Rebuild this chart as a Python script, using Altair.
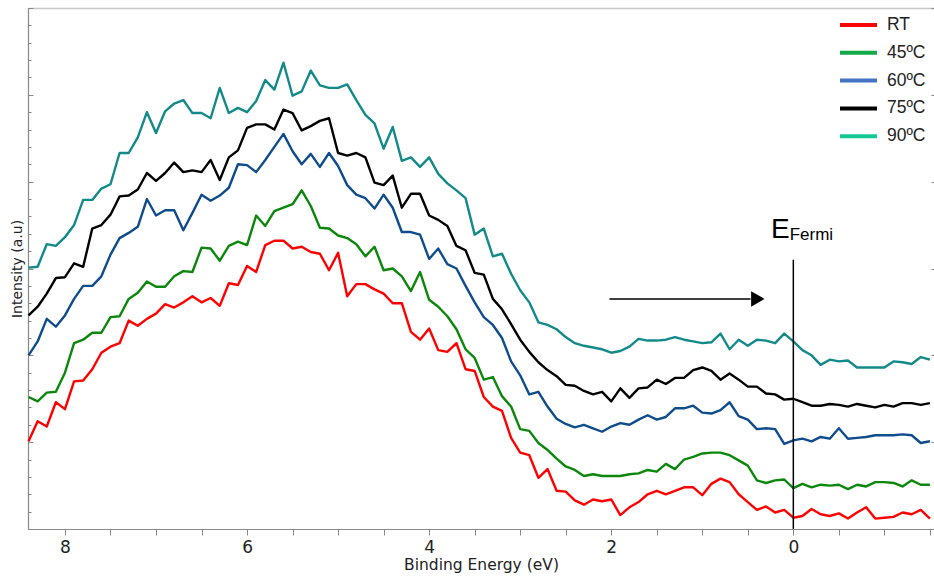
import altair as alt
import pandas as pd

# Binding energy grid (eV), 0.1 eV steps from 8.4 down to -1.5
energy = [
    8.4, 8.3, 8.2, 8.1, 8.0, 7.9, 7.8, 7.7, 7.6, 7.5,
    7.4, 7.3, 7.2, 7.1, 7.0, 6.9, 6.8, 6.7, 6.6, 6.5,
    6.4, 6.3, 6.2, 6.1, 6.0, 5.9, 5.8, 5.7, 5.6, 5.5,
    5.4, 5.3, 5.2, 5.1, 5.0, 4.9, 4.8, 4.7, 4.6, 4.5,
    4.4, 4.3, 4.2, 4.1, 4.0, 3.9, 3.8, 3.7, 3.6, 3.5,
    3.4, 3.3, 3.2, 3.1, 3.0, 2.9, 2.8, 2.7, 2.6, 2.5,
    2.4, 2.3, 2.2, 2.1, 2.0, 1.9, 1.8, 1.7, 1.6, 1.5,
    1.4, 1.3, 1.2, 1.1, 1.0, 0.9, 0.8, 0.7, 0.6, 0.5,
    0.4, 0.3, 0.2, 0.1, 0.0, -0.1, -0.2, -0.3, -0.4, -0.5,
    -0.6, -0.7, -0.8, -0.9, -1.0, -1.1, -1.2, -1.3, -1.4, -1.5,
]

# Valence-band spectra (offset, arbitrary units)
rt = [
    1.01, 1.24, 1.18, 1.46, 1.38, 1.70, 1.71, 1.84, 2.03, 2.10,
    2.14, 2.40, 2.34, 2.42, 2.48, 2.59, 2.55, 2.61, 2.68, 2.61,
    2.66, 2.57, 2.83, 2.81, 3.03, 2.96, 3.27, 3.32, 3.32, 3.23,
    3.25, 3.19, 3.17, 2.98, 3.18, 2.68, 2.82, 2.82, 2.76, 2.71,
    2.60, 2.60, 2.27, 2.18, 2.31, 2.06, 2.04, 2.14, 1.84, 1.82,
    1.52, 1.41, 1.36, 1.05, 0.88, 0.85, 0.59, 0.69, 0.44, 0.43,
    0.33, 0.28, 0.34, 0.32, 0.34, 0.16, 0.25, 0.31, 0.40, 0.44,
    0.40, 0.44, 0.48, 0.48, 0.39, 0.52, 0.58, 0.54, 0.40, 0.31,
    0.22, 0.26, 0.19, 0.22, 0.13, 0.15, 0.23, 0.17, 0.15, 0.18,
    0.12, 0.19, 0.25, 0.12, 0.13, 0.14, 0.19, 0.17, 0.22, 0.12,
]
c45 = [
    1.52, 1.47, 1.57, 1.58, 1.80, 2.14, 2.18, 2.26, 2.26, 2.44,
    2.45, 2.65, 2.72, 2.85, 2.79, 2.79, 2.91, 2.97, 2.96, 3.24,
    3.23, 3.09, 3.26, 3.31, 3.27, 3.61, 3.49, 3.66, 3.70, 3.74,
    3.90, 3.72, 3.47, 3.46, 3.38, 3.35, 3.28, 3.14, 3.25, 2.98,
    3.00, 2.91, 2.74, 2.96, 2.64, 2.56, 2.45, 2.30, 2.07, 1.97,
    1.72, 1.75, 1.53, 1.41, 1.15, 1.13, 0.99, 0.91, 0.81, 0.72,
    0.68, 0.61, 0.63, 0.61, 0.61, 0.61, 0.63, 0.64, 0.68, 0.66,
    0.75, 0.69, 0.80, 0.83, 0.87, 0.88, 0.88, 0.85, 0.79, 0.73,
    0.56, 0.53, 0.56, 0.57, 0.47, 0.52, 0.48, 0.51, 0.50, 0.51,
    0.46, 0.51, 0.49, 0.54, 0.54, 0.53, 0.49, 0.56, 0.51, 0.51,
]
c60 = [
    2.00, 2.16, 2.42, 2.33, 2.46, 2.65, 2.80, 2.80, 2.91, 3.16,
    3.35, 3.41, 3.48, 3.80, 3.61, 3.67, 3.67, 3.44, 3.64, 3.85,
    3.78, 3.84, 3.93, 4.20, 4.19, 4.11, 4.25, 4.40, 4.55, 4.35,
    4.20, 4.32, 4.17, 4.33, 4.18, 3.96, 3.85, 3.81, 3.69, 3.85,
    3.70, 3.42, 3.42, 3.39, 3.11, 3.23, 3.05, 3.00, 2.80, 2.61,
    2.44, 2.35, 2.20, 1.93, 1.77, 1.55, 1.58, 1.41, 1.27, 1.21,
    1.17, 1.20, 1.16, 1.12, 1.18, 1.22, 1.20, 1.26, 1.31, 1.26,
    1.29, 1.39, 1.39, 1.42, 1.34, 1.33, 1.37, 1.46, 1.30, 1.26,
    1.15, 1.16, 1.15, 0.98, 1.02, 1.04, 1.01, 1.06, 1.04, 1.16,
    1.04, 1.05, 1.06, 1.08, 1.08, 1.08, 1.09, 1.08, 0.99, 1.01,
]
c75 = [
    2.46, 2.56, 2.71, 2.89, 2.90, 3.06, 3.02, 3.46, 3.50, 3.62,
    3.83, 3.84, 3.91, 4.10, 4.01, 4.10, 4.22, 4.11, 4.13, 4.11,
    4.25, 4.02, 4.28, 4.36, 4.62, 4.66, 4.66, 4.60, 4.83, 4.79,
    4.59, 4.64, 4.70, 4.73, 4.33, 4.30, 4.33, 4.28, 3.99, 3.96,
    4.07, 3.70, 3.86, 3.86, 3.61, 3.56, 3.49, 3.26, 3.21, 2.95,
    2.93, 2.65, 2.53, 2.36, 2.18, 2.04, 1.92, 1.83, 1.76, 1.66,
    1.65, 1.59, 1.55, 1.58, 1.47, 1.62, 1.51, 1.62, 1.63, 1.72,
    1.67, 1.74, 1.74, 1.83, 1.86, 1.82, 1.72, 1.79, 1.72, 1.64,
    1.64, 1.56, 1.55, 1.49, 1.50, 1.46, 1.42, 1.42, 1.44, 1.43,
    1.41, 1.44, 1.42, 1.40, 1.43, 1.41, 1.45, 1.45, 1.43, 1.45,
]
c90 = [
    3.01, 3.02, 3.28, 3.26, 3.36, 3.50, 3.79, 3.79, 3.92, 3.97,
    4.33, 4.33, 4.51, 4.80, 4.56, 4.81, 4.90, 4.94, 4.79, 4.79,
    4.73, 5.08, 4.79, 4.85, 4.80, 4.93, 5.17, 5.06, 5.37, 4.99,
    5.04, 5.28, 5.11, 5.08, 5.08, 5.12, 4.94, 4.77, 4.67, 4.38,
    4.63, 4.24, 4.28, 4.17, 4.28, 4.09, 3.98, 3.90, 3.81, 3.39,
    3.46, 3.14, 3.17, 2.94, 2.75, 2.61, 2.38, 2.35, 2.30, 2.21,
    2.14, 2.11, 2.09, 2.07, 2.03, 2.05, 2.10, 2.19, 2.17, 2.17,
    2.18, 2.21, 2.18, 2.16, 2.14, 2.15, 2.25, 2.07, 2.18, 2.11,
    2.18, 2.17, 2.14, 2.25, 2.16, 2.06, 2.00, 1.89, 1.95, 1.93,
    1.94, 1.86, 1.86, 1.86, 1.86, 1.93, 1.92, 1.90, 1.98, 1.95,
]

series_names = ["RT", "45ºC", "60ºC", "75ºC", "90ºC"]
line_colors = ["#ff0000", "#0b870b", "#0f4c8c", "#000000", "#138a8a"]
legend_colors = ["#ff0000", "#13a84a", "#4472c4", "#000000", "#14c896"]

x_ticks = [8, 7.5, 7, 6.5, 6, 5.5, 5, 4.5, 4, 3.5, 3, 2.5, 2, 1.5, 1, 0.5, 0, -0.5, -1, -1.5]
y_minor = [round(0.2 * i, 1) for i in range(31)]
y_major = [0, 1, 2, 3, 4, 5, 6]

# Fermi-level marker and annotation
fermi_level = 0.0
fermi_top = 3.10
arrow_from, arrow_to, arrow_y = 2.02, 0.47, 2.65
arrow_head_x = 0.39

rows = []
for name, vals in zip(series_names, [rt, c45, c60, c75, c90]):
    for e, v in zip(energy, vals):
        rows.append({"energy": e, "intensity": v, "series": name})
spectra = pd.DataFrame(rows)

x_scale = alt.Scale(domain=[-1.545, 8.406], reverse=True, nice=False, zero=False)
y_scale = alt.Scale(domain=[0, 6], nice=False, zero=False)

FONT = "DejaVu Sans"

x_axis = alt.Axis(
    values=x_ticks,
    title="Binding Energy (eV)",
    labelExpr="datum.value % 2 === 0 ? format(datum.value, 'd') : ''",
    labelFont=FONT, labelFontSize=17, labelColor="#222222",
    labelPadding=4, labelOverlap=False, labelFlush=False,
    tickSize=6, tickColor="#888888", tickWidth=1,
    domainColor="#888888", domainWidth=1.2,
    titleFont=FONT, titleFontSize=15.5, titleFontWeight="normal",
    titleColor="#222222", titlePadding=2, grid=False,
)

y_axis_left = alt.Axis(
    values=y_minor, labels=False, orient="left",
    tickSize=alt.ExprRef("-3"), tickColor="#888888", tickWidth=1,
    domainColor="#888888", domainWidth=1.2,
    title="Intensity (a.u)", titleFont=FONT, titleFontSize=14,
    titleFontWeight="normal", titleColor="#222222", titlePadding=3,
    grid=False,
)

lines = alt.Chart(spectra).mark_line(strokeWidth=2.4, strokeJoin="round").encode(
    x=alt.X("energy:Q", scale=x_scale, axis=x_axis),
    y=alt.Y("intensity:Q", scale=y_scale, axis=y_axis_left),
    color=alt.Color("series:N", scale=alt.Scale(domain=series_names, range=line_colors), legend=None),
)

legend_layer = alt.Chart(spectra).mark_line(opacity=0).encode(
    x=alt.X("energy:Q", scale=x_scale, axis=None),
    y=alt.Y("intensity:Q", scale=y_scale, axis=None),
    color=alt.Color(
        "series:N",
        scale=alt.Scale(domain=series_names, range=legend_colors),
        legend=alt.Legend(
            title=None, orient="none", legendX=810, legendY=8.5,
            symbolType="stroke", symbolSize=37 * 37, symbolStrokeWidth=4,
            symbolOpacity=1, clipHeight=17, rowPadding=9.8,
            labelFont="Liberation Sans", labelFontSize=17.5, labelColor="#222222",
            labelOffset=8, padding=0,
        ),
    ),
)

fermi_df = pd.DataFrame({"x": [fermi_level], "y0": [0.0], "y1": [fermi_top]})
fermi_line = alt.Chart(fermi_df).mark_rule(color="black", strokeWidth=1.5).encode(
    x=alt.X("x:Q", scale=x_scale, axis=alt.Axis(
        orient="top", ticks=False, labels=False, title=None,
        domainColor="#c8c8c8", domainWidth=1.5, grid=False)),
    y=alt.Y("y0:Q", scale=y_scale, axis=alt.Axis(
        orient="left", values=y_major, labels=False, domain=False, title=None,
        tickSize=alt.ExprRef("-5"), tickColor="#888888", tickWidth=1, grid=False)),
    y2="y1:Q",
)

arrow_df = pd.DataFrame({"x0": [arrow_from], "x1": [arrow_to], "y": [arrow_y]})
arrow_shaft = alt.Chart(arrow_df).mark_rule(color="black", strokeWidth=1.5).encode(
    x=alt.X("x0:Q", scale=x_scale, axis=None),
    x2="x1:Q",
    y=alt.Y("y:Q", scale=y_scale, axis=alt.Axis(
        orient="right", values=y_major, labels=False, domain=False, title=None,
        tickSize=alt.ExprRef("-3"), tickColor="#888888", tickWidth=1, grid=False)),
)

head_df = pd.DataFrame({"x": [arrow_head_x], "y": [arrow_y]})
arrow_head = alt.Chart(head_df).mark_point(
    shape="triangle-right", filled=True, size=240, color="black", opacity=1
).encode(
    x=alt.X("x:Q", scale=x_scale, axis=None),
    y=alt.Y("y:Q", scale=y_scale, axis=None),
)

label_df = pd.DataFrame({
    "x": [0.245, 0.04],
    "y": [3.35, 3.33],
    "text": ["E", "Fermi"],
    "size": [28, 17],
})
fermi_text = alt.Chart(label_df).mark_text(
    align="left", baseline="alphabetic", font="Liberation Sans", color="black"
).encode(
    x=alt.X("x:Q", scale=x_scale, axis=None),
    y=alt.Y("y:Q", scale=y_scale, axis=None),
    text="text:N",
    size=alt.Size("size:Q", scale=None, legend=None),
)

chart = alt.layer(
    lines, legend_layer, fermi_line, arrow_shaft, arrow_head, fermi_text
).resolve_scale(
    color="independent"
).resolve_axis(
    x="independent", y="independent"
).properties(
    width=906, height=521,
    padding={"left": 28, "top": 8, "right": 0, "bottom": 52},
    autosize=alt.AutoSizeParams(type="none"),
).configure_view(stroke=None).configure(background="white")

chart.save("out.html", embed_options={"renderer": "svg", "actions": False})
